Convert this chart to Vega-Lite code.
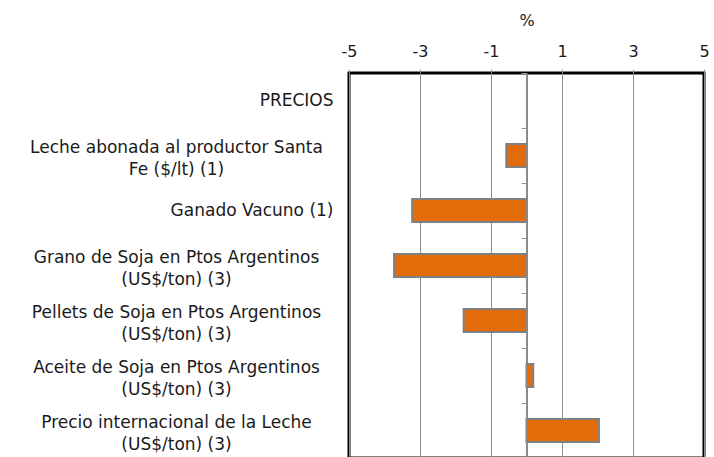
{
  "$schema": "https://vega.github.io/schema/vega-lite/v6.json",
  "autosize": {"type": "none"},
  "padding": {"left": 349, "top": 73, "right": 10, "bottom": 0},
  "width": 355,
  "height": 385,
  "background": "white",
  "config": {
    "view": {"stroke": "black", "strokeWidth": 3},
    "font": "DejaVu Sans"
  },
  "data": {
    "values": [
      {"cat": "PRECIOS", "v": null},
      {"cat": "Leche abonada al productor Santa\nFe ($/lt) (1)", "v": -0.57},
      {"cat": "Ganado Vacuno (1)", "v": -3.22},
      {"cat": "Grano de Soja en Ptos Argentinos\n(US$/ton) (3)", "v": -3.73},
      {"cat": "Pellets de Soja en Ptos Argentinos\n(US$/ton) (3)", "v": -1.77},
      {"cat": "Aceite de Soja en Ptos Argentinos\n(US$/ton) (3)", "v": 0.19},
      {"cat": "Precio internacional de la Leche\n(US$/ton) (3)", "v": 2.04}
    ]
  },
  "encoding": {
    "x": {
      "field": "v", "type": "quantitative",
      "scale": {"domain": [-5, 5], "nice": false, "zero": false},
      "axis": {
        "orient": "top", "title": "%", "values": [-5, -3, -1, 0, 1, 3, 5],
        "labelExpr": "datum.value == 0 ? '' : '' + datum.value",
        "labelFlush": false,
        "domain": false, "tickSize": 4,
        "tickColor": {"condition": {"test": "datum.value == 0", "value": "transparent"}, "value": "#999999"},
        "grid": true, "gridColor": "#8c8c8c", "gridWidth": 1,
        "labelFontSize": 16, "labelColor": "#1a1a1a", "labelPadding": 10,
        "titleFontSize": 16, "titleFontWeight": "normal", "titleColor": "#1a1a1a", "titlePadding": 15
      }
    },
    "y": {
      "field": "cat", "type": "nominal", "sort": null,
      "scale": {
        "domain": ["PRECIOS", "Leche abonada al productor Santa\nFe ($/lt) (1)", "Ganado Vacuno (1)", "Grano de Soja en Ptos Argentinos\n(US$/ton) (3)", "Pellets de Soja en Ptos Argentinos\n(US$/ton) (3)", "Aceite de Soja en Ptos Argentinos\n(US$/ton) (3)", "Precio internacional de la Leche\n(US$/ton) (3)"],
        "paddingInner": 0, "paddingOuter": 0
      }
    }
  },
  "layer": [
    {
      "mark": {"type": "bar", "height": {"band": 0.42}, "color": "#E36C0A", "stroke": "#808080", "strokeWidth": 2},
      "encoding": {
        "y": {
          "field": "cat", "type": "nominal", "sort": null,
          "axis": {
            "orient": "left", "title": null, "ticks": false, "tickSize": 0, "domain": false,
            "labelExpr": "split(datum.label, '\\n')",
            "labelFontSize": 17, "labelColor": "#1a1a1a", "labelLineHeight": 22, "labelLimit": 400,
            "labelAlign": {"condition": {"test": "indexof(datum.value, '\\n') >= 0", "value": "center"}, "value": "right"},
            "labelPadding": {"condition": {"test": "indexof(datum.value, '\\n') >= 0", "value": 173}, "value": 16},
            "labelOffset": {"condition": {"test": "indexof(datum.value, '\\n') >= 0", "value": -8}, "value": 0}
          }
        }
      }
    },
    {
      "mark": {"type": "bar", "opacity": 0},
      "encoding": {
        "y": {
          "field": "cat", "type": "nominal", "sort": null,
          "axis": {
            "orient": "left", "title": null, "offset": -177, "labels": false, "domain": false,
            "ticks": true, "tickSize": 5, "tickColor": "#999999", "bandPosition": 0, "grid": false
          }
        }
      }
    },
    {
      "mark": {"type": "rule", "color": "#8c8c8c", "strokeWidth": 1},
      "encoding": {"x": {"datum": 0}, "y": null}
    }
  ],
  "resolve": {"axis": {"y": "independent"}}
}
